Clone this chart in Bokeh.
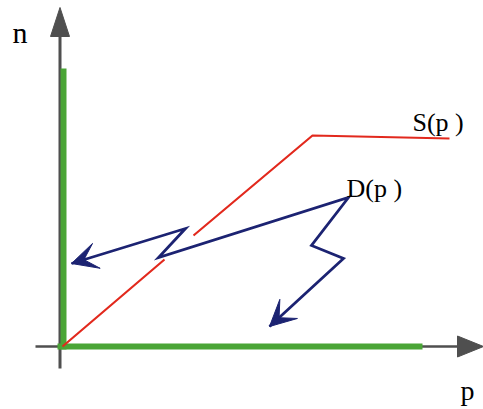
import numpy as np
from bokeh.plotting import figure
from bokeh.models import Range1d, Arrow, VeeHead
from bokeh.core.properties import value
from bokeh.embed import file_html
from bokeh.resources import INLINE

# ---- data (units: chart units, origin at axes crossing) ----
# axes
n_axis_x = [-2.5, -2.5]
n_axis_y = [-22, 310]
n_axis_tip = [-2.5, 339]
p_axis_x = [-27, 395]
p_axis_y = [0, 0]
p_axis_tip = [421, 0]

# green feasible boundaries
green_v_x = [1, 1]
green_v_y = [-3, 278]
green_h_x = [-5, 360]
green_h_y = [0, 0]

# supply curve S(p) (break where it passes beneath D)
s_x = [0, 102, np.nan, 131, 250, 387]
s_y = [0, 87, np.nan, 111, 211, 208]

# demand zigzag D(p)
d_x = [9, 123, 96, 286, 249, 281, 207]
d_y = [83, 118, 89, 149, 101, 88, 20]

labels = ["n", "p", "S(p )", "D(p )"]
label_x = [-50, 398, 350, 284]
label_y = [314, -44, 224, 158]
label_size = ["30px", "28px", "26px", "26px"]

GRAY = "#4f4f4f"
GREEN = "#4aa536"
RED = "#e2291d"
NAVY = "#1c2372"

p = figure(width=483, height=409, output_backend="svg", toolbar_location=None,
           x_range=Range1d(-62, 421), y_range=Range1d(-63, 346),
           min_border=0)
p.axis.visible = False
p.grid.visible = False
p.outline_line_color = None
p.background_fill_color = "white"

# gray axes
p.line(n_axis_x, n_axis_y, line_color=GRAY, line_width=3)
p.line(p_axis_x, p_axis_y, line_color=GRAY, line_width=2.5)
# arrowheads for axes built from axis ends
L, W = 29, 9.5
p.patch([n_axis_tip[0] - W, n_axis_tip[0], n_axis_tip[0] + W],
        [n_axis_tip[1] - L, n_axis_tip[1], n_axis_tip[1] - L],
        fill_color=GRAY, line_color=GRAY, line_width=1)
p.patch([p_axis_tip[0] - 26, p_axis_tip[0], p_axis_tip[0] - 26],
        [p_axis_tip[1] - 10.5, p_axis_tip[1], p_axis_tip[1] + 10.5],
        fill_color=GRAY, line_color=GRAY, line_width=1)

# green lines
p.line(green_v_x, green_v_y, line_color=GREEN, line_width=6, line_cap="butt")
p.line(green_h_x, green_h_y, line_color=GREEN, line_width=6, line_cap="butt")

# supply curve
p.line(s_x, s_y, line_color=RED, line_width=2.2)

# demand zigzag
p.line(d_x, d_y, line_color=NAVY, line_width=2.8, line_join="miter")
for (xs, ys, xe, ye) in [(d_x[1], d_y[1], d_x[0], d_y[0]),
                         (d_x[-2], d_y[-2], d_x[-1], d_y[-1])]:
    p.add_layout(Arrow(end=VeeHead(size=26, fill_color=NAVY, line_color=NAVY, line_width=1),
                       x_start=xs, y_start=ys, x_end=xe, y_end=ye,
                       line_alpha=0))

# labels
for t, x, y, s in zip(labels, label_x, label_y, label_size):
    p.text(x=[x], y=[y], text=[t], text_font=value("Liberation Serif"),
           text_font_size=s, text_color="black", text_baseline="alphabetic",
           text_align="left")

open("out.html", "w").write(file_html(p, INLINE))
